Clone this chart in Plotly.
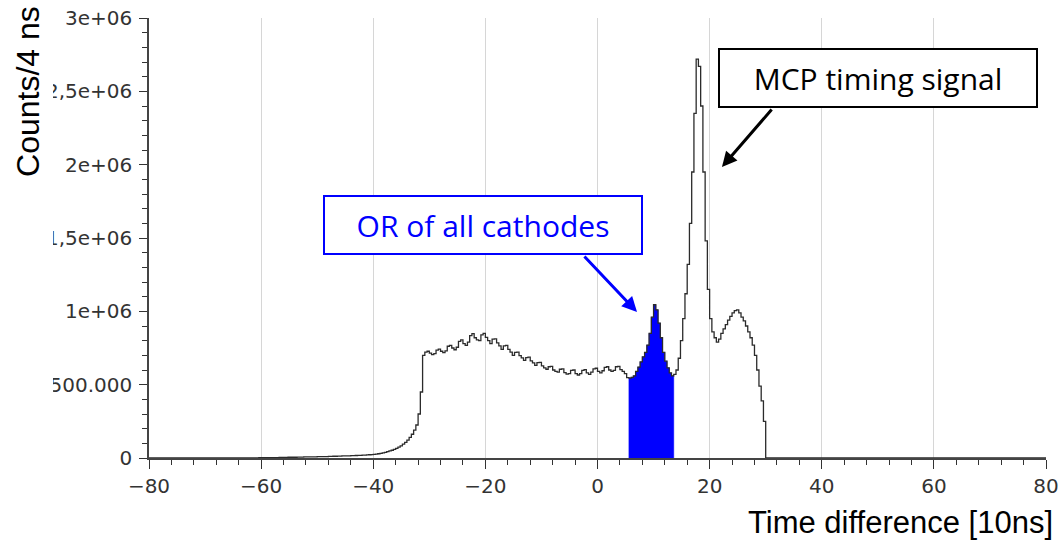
import plotly.graph_objects as go

# ---------------- data (counts in thousands, 0.4-unit bins) ----------------
bin_width = 0.4
x_min, x_max = -80.0, 80.0

# full histogram, first bin starts at -62.0
hist_start = -62.0
hist_counts_k = [
    # -62.0 .. -40.0 slow tail
    1, 1, 1, 1, 2, 2, 2, 2, 2, 3,
    3, 3, 3, 4, 4, 4, 4, 5, 5, 5,
    5, 6, 6, 6, 7, 7, 7, 8, 8, 8,
    9, 9, 10, 10, 10, 11, 11, 12, 12, 13,
    13, 14, 14, 15, 15, 16, 16, 17, 18, 18,
    19, 20, 21, 22, 23,
    # -40.0 .. -31.2 rising edge
    25, 27, 29, 32, 35, 39, 43, 48, 53, 59,
    66, 74, 83, 94, 107, 122, 140, 162, 190, 225,
    300, 450,
    # -31.2 .. 5.6 plateau
    700, 722, 728, 715, 705,
    712, 735, 742, 728, 718,
    730, 762, 768, 750, 738,
    755, 795, 805, 780, 768,
    790, 835, 848, 820, 805,
    800, 840, 850, 822, 800,
    780, 810, 812, 785, 765,
    740, 765, 768, 740, 722,
    700, 720, 722, 698, 682,
    665, 685, 688, 662, 648,
    632, 650, 652, 628, 615,
    605, 622, 625, 600, 590,
    585, 605, 608, 582, 572,
    575, 598, 600, 575, 566,
    575, 598, 602, 580, 570,
    585, 608, 612, 590, 580,
    595, 618, 622, 600, 590,
    598, 622, 625, 602, 590,
    575, 548,
    # 5.6 .. 13.6 cathode OR peak
    545, 550, 560, 590, 620, 655, 690, 720, 770, 850,
    960, 1045, 1010, 920, 820, 720, 660, 615, 580, 560,
    # 13.6 .. 30.0 MCP peak and shoulder
    570, 600, 680, 800, 950, 1120, 1320, 1600, 1950, 2350,
    2720, 2670, 2400, 1950, 1480, 1150, 950, 860, 820, 790,
    810, 850, 880, 910, 940, 965, 990, 1005, 1010, 990,
    960, 935, 900, 860, 820, 770, 700, 600, 490, 390,
    250,
]

# highlighted (blue) range of bins
blue_lo, blue_hi = 5.6, 13.6

x_ticks = [-80, -60, -40, -20, 0, 20, 40, 60, 80]
y_tickvals = [0, 500000, 1000000, 1500000, 2000000, 2500000, 3000000]
y_ticktext = ["0", "500.000", "1e+06", "1,5e+06", "2e+06", "2,5e+06", "3e+06"]

# ---------------- build step arrays ----------------
n_total = int(round((x_max - x_min) / bin_width))
first = int(round((hist_start - x_min) / bin_width))
vals = [0.0] * n_total
for i, c in enumerate(hist_counts_k):
    vals[first + i] = c * 1000.0
edges = [x_min + i * bin_width for i in range(n_total + 1)]

step_x = edges
step_y = vals + [vals[-1]]

blue_x, blue_y = [], []
for i in range(n_total):
    left = edges[i]
    if left >= blue_lo - 1e-9 and left < blue_hi - 1e-9:
        blue_x.append(left)
        blue_y.append(vals[i])
# close the last step and drop to zero on both sides
blue_x = [blue_x[0]] + blue_x + [blue_x[-1] + bin_width, blue_x[-1] + bin_width]
blue_y = [0] + blue_y + [blue_y[-1], 0]

fig = go.Figure()
fig.add_trace(go.Scatter(x=blue_x, y=blue_y, mode="lines", fill="toself",
                         fillcolor="#0000ff", line=dict(color="#0000ff", width=0.5, shape="hv"),
                         hoverinfo="skip", showlegend=False))
fig.add_trace(go.Scatter(x=step_x, y=step_y, mode="lines",
                         line=dict(color="#2b2b2b", width=1.3, shape="hv"),
                         hoverinfo="skip", showlegend=False))

tick_font = dict(family="DejaVu Sans", size=20, color="#333333")

fig.update_layout(
    width=1061, height=541,
    margin=dict(l=149, r=15, t=18, b=83, autoexpand=False),
    paper_bgcolor="white", plot_bgcolor="white",
    showlegend=False,
    xaxis=dict(range=[x_min, x_max], tickvals=x_ticks, ticks="outside", ticklen=9,
               tickwidth=1, tickcolor="#333333", showline=True, linecolor="#444444",
               linewidth=1.5, showgrid=True, gridcolor="#d6d6d6", gridwidth=1,
               zeroline=False, tickfont=tick_font, automargin=False,
               minor=dict(dtick=4, ticks="outside", ticklen=5, tickcolor="#333333",
                          showgrid=False)),
    yaxis=dict(range=[0, 3000000], tickvals=y_tickvals, ticktext=y_ticktext,
               ticks="outside", ticklen=8, tickwidth=1, tickcolor="#333333",
               showline=True, linecolor="#444444", linewidth=1.5, showgrid=False,
               zeroline=False, tickfont=tick_font, automargin=False,
               ticklabelstandoff=3,
               minor=dict(dtick=100000, ticks="outside", ticklen=5, tickcolor="#333333",
                          showgrid=False)),
)

# white strip cropping the left of the tick labels (as in the reference)
fig.add_shape(type="rect", xref="paper", yref="paper", x0=-0.2, x1=-0.107,
              y0=-0.25, y1=1.1, fillcolor="white", line=dict(width=0), layer="above")

fig.add_annotation(text="Counts/4 ns", xref="paper", yref="paper", x=-0.1350, y=0.834,
                   textangle=-90, showarrow=False, xanchor="center", yanchor="middle",
                   font=dict(family="Liberation Sans", size=32, color="black"))
fig.add_annotation(text="Time difference [10ns]", xref="paper", yref="paper",
                   x=1.01, y=-0.1477, xanchor="right", yanchor="middle", showarrow=False,
                   font=dict(family="Liberation Sans", size=31, color="black"))

# annotation boxes
fig.add_annotation(text="MCP timing signal", xref="paper", yref="paper",
                   x=0.8127, y=0.8636, xanchor="center", yanchor="middle", showarrow=False,
                   width=314, height=54, bgcolor="white", bordercolor="black", borderwidth=2,
                   borderpad=1, font=dict(family="Open Sans", size=30, color="black"))
fig.add_annotation(text="OR of all cathodes", xref="paper", yref="paper",
                   x=0.3724, y=0.5295, xanchor="center", yanchor="middle", showarrow=False,
                   width=314, height=54, bgcolor="white", bordercolor="#0000ff", borderwidth=2,
                   borderpad=1, font=dict(family="Open Sans", size=30, color="#0000ff"))

# arrows
fig.add_annotation(x=22.2, y=1984000, ax=51, ay=-59, text="", showarrow=True,
                   arrowhead=2, arrowsize=1, arrowwidth=3, arrowcolor="black")
fig.add_annotation(x=7.05, y=995000, ax=-54, ay=-57, text="", showarrow=True,
                   arrowhead=2, arrowsize=1, arrowwidth=3, arrowcolor="#0000ff")

fig.write_html("out.html")
